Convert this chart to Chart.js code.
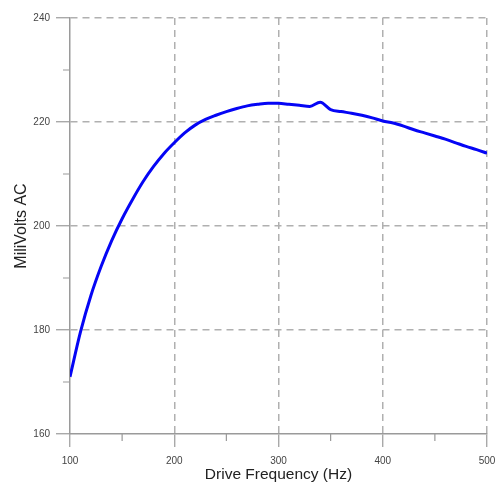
<!DOCTYPE html>
<html>
<head>
<meta charset="utf-8">
<script src="https://cdn.jsdelivr.net/npm/chart.js@4"></script>
<style>
  html, body { margin: 0; padding: 0; background: #fff; }
  #wrap { width: 495px; height: 482px; }
</style>
</head>
<body>
<div id="wrap"><canvas id="freqChart"></canvas></div>
<script>
// Drive frequency (Hz) and measured output (mV AC)
const frequencies = [100, 110, 120, 130, 140, 150, 160, 170, 180, 190,
  200, 210, 220, 230, 240, 250, 260, 270, 280, 290,
  300, 310, 320, 330, 340, 350, 360, 370, 380, 390,
  400, 410, 420, 430, 440, 450, 460, 470, 480, 490, 500];
const milliVolts = [171.0, 179.6, 186.6, 192.3, 197.2, 201.4, 205.1, 208.5, 211.4, 213.9,
  216.0, 217.9, 219.4, 220.5, 221.3, 222.0, 222.6, 223.1, 223.4, 223.6,
  223.6, 223.4, 223.2, 223.0, 223.8, 222.4, 222.0, 221.7, 221.3, 220.8,
  220.2, 219.8, 219.2, 218.5, 217.9, 217.3, 216.7, 216.0, 215.3, 214.7, 214.0];

const xMinorTicks = [150, 250, 350, 450];
const yMinorTicks = [170, 190, 210, 230];

const axisGray = "#9a9a9a";
const gridGray = "#b0b0b0";
const fontFamily = "'Liberation Sans', Arial, sans-serif";

// Short minor tick marks, placed with the chart's own scales
const minorTicks = {
  id: "minorTicks",
  afterDraw(chart) {
    const { ctx, scales: { x, y } } = chart;
    ctx.save();
    ctx.strokeStyle = axisGray;
    ctx.lineWidth = 1.2;
    ctx.beginPath();
    xMinorTicks.forEach(v => {
      const px = x.getPixelForValue(v);
      ctx.moveTo(px, y.bottom);
      ctx.lineTo(px, y.bottom + 7);
    });
    yMinorTicks.forEach(v => {
      const py = y.getPixelForValue(v);
      ctx.moveTo(x.left, py);
      ctx.lineTo(x.left - 7, py);
    });
    ctx.stroke();
    ctx.restore();
  }
};

const hideAtMin = min => c => (c.tick && c.tick.value === min ? "rgba(0,0,0,0)" : gridGray);

new Chart(document.getElementById("freqChart"), {
  type: "line",
  data: {
    datasets: [{
      data: frequencies.map((f, i) => ({ x: f, y: milliVolts[i] })),
      borderColor: "#0505f5",
      borderWidth: 3,
      pointRadius: 0,
      cubicInterpolationMode: "monotone",
      fill: false,
    }],
  },
  options: {
    responsive: true,
    maintainAspectRatio: false,
    animation: false,
    layout: { padding: { left: 12, top: 18, right: 0, bottom: 0 } },
    plugins: {
      legend: { display: false },
      tooltip: { enabled: false },
    },
    scales: {
      x: {
        type: "linear",
        min: 100,
        max: 500,
        afterFit(scale) {
          scale.height = 48;
          scale.paddingLeft = 0;
          scale.paddingRight = 8;
        },
        ticks: {
          stepSize: 100,
          color: "#444",
          padding: 9.5,
          font: { family: fontFamily, size: 10, lineHeight: 1 },
        },
        grid: {
          color: hideAtMin(100),
          lineWidth: 1.5,
          tickColor: axisGray,
          tickLength: 13,
          tickWidth: 1.2,
        },
        border: { color: axisGray, width: 1.5, dash: [7, 5] },
        title: {
          display: true,
          text: "Drive Frequency (Hz)",
          color: "#222",
          padding: { top: 0, bottom: 0 },
          font: { family: fontFamily, size: 15.5, lineHeight: 1 },
        },
      },
      y: {
        min: 160,
        max: 240,
        afterFit(scale) {
          scale.width = 58;
        },
        ticks: {
          stepSize: 20,
          color: "#444",
          padding: 6,
          font: { family: fontFamily, size: 10 },
        },
        grid: {
          color: hideAtMin(160),
          lineWidth: 1.5,
          tickColor: axisGray,
          tickLength: 14,
          tickWidth: 1.2,
        },
        border: { color: axisGray, width: 1.5, dash: [7, 5] },
        title: {
          display: true,
          text: "MiliVolts AC",
          color: "#222",
          padding: { top: 0, bottom: 0 },
          font: { family: fontFamily, size: 16, lineHeight: 1.2 },
        },
      },
    },
  },
  plugins: [minorTicks],
});
</script>
</body>
</html>
